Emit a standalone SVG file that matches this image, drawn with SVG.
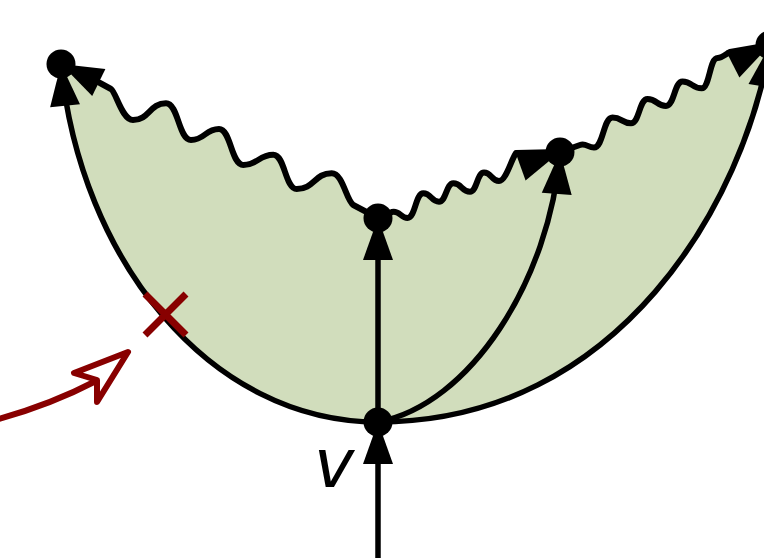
<svg xmlns="http://www.w3.org/2000/svg" width="764" height="558" viewBox="0 0 764 558">
  <style>
    .ln { fill: none; stroke: #000; stroke-width: 5.5; stroke-linejoin: round; }
    .wv { fill: none; stroke: #000; stroke-width: 6; stroke-linejoin: round; }
    .fillg { fill: #d1ddbc; stroke: none; }
    .node { fill: #000; }
    .head { fill: #000; stroke: none; }
    .red { stroke: #880000; stroke-width: 6; stroke-linejoin: round; }
  </style>
  <defs>
    <marker id="ah" markerUnits="userSpaceOnUse" markerWidth="44" markerHeight="32" viewBox="0 0 44 32" refX="42" refY="16" orient="auto" overflow="visible">
      <path d="M0,1 L42,16 L0,31 z" fill="#000"/>
    </marker>
  </defs>

  <g id="region">
    <path class="fillg" d="M61 64 L100 83 L111 89 C116 92 122 120 133 120 C149.5 120 149.5 103.3 166 103.3 C178.5 103.3 178.5 140 191 140 C205 140 205 129 219 129 C231 129 231 165 243.3 165 C258.3 165 258.3 154.7 273.3 154.7 C285 154.7 285 189 296.7 189 C314.2 189 314.2 173.3 331.7 173.3 C343 173.3 346 200 353.3 205 L378 218 L392 212 C399 210 401 218 407.5 218 C415.4 218 415.4 193.3 423.3 193.3 C431.2 193.3 431.2 201.7 439 201.7 C446.2 201.7 446.2 183.3 453.3 183.3 C461.7 183.3 461.7 191.7 470 191.7 C477 191.7 477 172.5 484 172.5 C491.5 172.5 491.5 181 499 181 C506 181 511 160 516 153 L560 152 L580 145 C586 143 588 147.5 594 147.5 C603.3 147.5 603.3 117.5 612.5 117.5 C621.8 117.5 621.8 123.3 631 123.3 C639.3 123.3 639.3 99 647.5 99 C656.8 99 656.8 106 666 106 C674.3 106 674.3 81.5 682.5 81.5 C692 81.5 692 88.3 701.7 88.3 C709.6 88.3 709.6 58 717.5 58 C722 58 726 54 730 52 L770 45 C745 200 620 422 378 422 C210 422 80 260 61 64 Z"/>
  </g>

  <g id="connectors">
    <path class="ln" d="M378 422 C210 422 80 260 61 64" marker-end="url(#ah)"/>
    <path class="ln" d="M378 422 C620 422 745 200 770 45" marker-end="url(#ah)"/>
    <path class="ln" d="M378 558 L378 422" marker-end="url(#ah)"/>
    <path class="ln" d="M378 422 L378 218" marker-end="url(#ah)"/>
    <path class="ln" d="M378 422 C470 405 550 280 560 152" marker-end="url(#ah)"/>
    <path class="wv" d="M61 64 L100 83 L111 89 C116 92 122 120 133 120 C149.5 120 149.5 103.3 166 103.3 C178.5 103.3 178.5 140 191 140 C205 140 205 129 219 129 C231 129 231 165 243.3 165 C258.3 165 258.3 154.7 273.3 154.7 C285 154.7 285 189 296.7 189 C314.2 189 314.2 173.3 331.7 173.3 C343 173.3 346 200 353.3 205 L378 218"/>
    <polygon class="head" points="61,64 105.4,68.9 92.2,95.9"/>
    <path class="wv" d="M378 218 L392 212 C399 210 401 218 407.5 218 C415.4 218 415.4 193.3 423.3 193.3 C431.2 193.3 431.2 201.7 439 201.7 C446.2 201.7 446.2 183.3 453.3 183.3 C461.7 183.3 461.7 191.7 470 191.7 C477 191.7 477 172.5 484 172.5 C491.5 172.5 491.5 181 499 181 C506 181 511 160 516 153 L560 152"/>
    <polygon class="head" points="560,152 515.4,152.2 525.6,180.4"/>
    <path class="wv" d="M560 152 L580 145 C586 143 588 147.5 594 147.5 C603.3 147.5 603.3 117.5 612.5 117.5 C621.8 117.5 621.8 123.3 631 123.3 C639.3 123.3 639.3 99 647.5 99 C656.8 99 656.8 106 666 106 C674.3 106 674.3 81.5 682.5 81.5 C692 81.5 692 88.3 701.7 88.3 C709.6 88.3 709.6 58 717.5 58 C722 58 726 54 730 52 L770 45"/>
    <polygon class="head" points="770,45 725.8,50.7 739.4,77.5"/>
    <path class="red" fill="none" d="M-5 420 Q50 405 96 381"/>
  </g>

  <g id="n-topleft"><circle class="node" cx="61" cy="64" r="14.5"/></g>
  <g id="n-mid"><circle class="node" cx="378" cy="218" r="14.5"/></g>
  <g id="n-right"><circle class="node" cx="560" cy="152" r="14.5"/></g>
  <g id="n-topright"><circle class="node" cx="770" cy="45" r="14.5"/></g>
  <g id="n-v"><circle class="node" cx="378" cy="422" r="14.5"/>
    <text x="314" y="487" font-family="DejaVu Sans, sans-serif" font-style="oblique" font-size="68" fill="#000">v</text>
  </g>

  <g id="cross">
    <path d="M145 294 L186 335 M145 335 L186 294" stroke="#880000" stroke-width="7" fill="none"/>
  </g>
  <g id="red-arrowhead">
    <polygon class="red" fill="#ffffff" points="128,352 74,373 97,380 97,402"/>
  </g>
</svg>
